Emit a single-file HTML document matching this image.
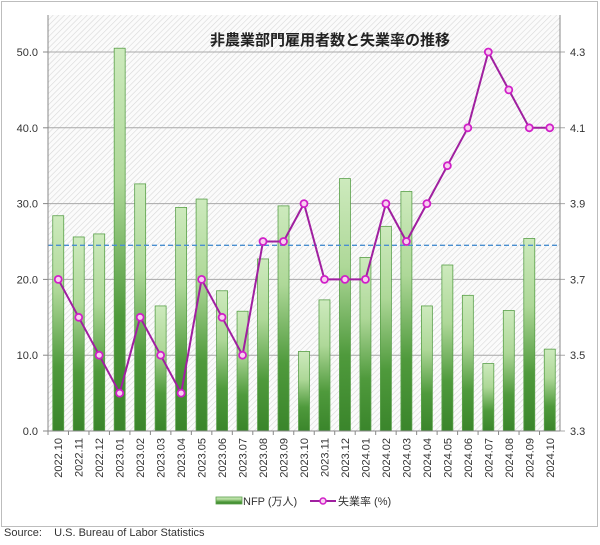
<!DOCTYPE html>
<html><head><meta charset="utf-8"><style>
body{margin:0;background:#fff;}
svg text{font-family:"Liberation Sans","Noto Sans CJK JP",sans-serif;}
</style></head><body>
<svg id="chart" width="600" height="540" xmlns="http://www.w3.org/2000/svg">
<defs>
<pattern id="hatch" width="4" height="4" patternUnits="userSpaceOnUse" patternTransform="rotate(45)">
<rect width="4" height="4" fill="#fbfbfb"/><line x1="0" y1="0" x2="0" y2="4" stroke="#d8d8d8" stroke-width="1.2"/>
</pattern>
<linearGradient id="barg" x1="0" y1="0" x2="0" y2="1">
<stop offset="0" stop-color="#cdeabd"/><stop offset="0.35" stop-color="#aed898"/><stop offset="0.7" stop-color="#4f9a3c"/><stop offset="1" stop-color="#3a852b"/>
</linearGradient>
</defs>
<rect x="1.5" y="1.5" width="596" height="525" fill="#fff" stroke="#bdbdbd"/>
<rect x="48" y="15" width="512" height="416" fill="url(#hatch)"/>
<g id="grid"></g>
<g id="bars"></g>
<line x1="48" x2="560" y1="245" y2="245" stroke="#4a8fd0" stroke-width="1.3" stroke-dasharray="5,3" id="avg"/>
<g id="line"></g>
<g id="axes"></g>
<text x="330" y="45" text-anchor="middle" font-size="15" font-weight="bold" fill="#222">非農業部門雇用者数と失業率の推移</text>
<g>
<rect x="216" y="276" width="0" height="0"/>
<rect x="216" y="497" width="26" height="7" fill="url(#barg)" stroke="#5aa04a" stroke-width="0.8"/>
<text x="243" y="505" font-size="11" fill="#333">NFP (万人)</text>
<line x1="310" x2="336" y1="501" y2="501" stroke="#a020a0" stroke-width="2"/>
<circle cx="323" cy="501" r="3" fill="#f8d0f0" stroke="#d020c8" stroke-width="1.5"/>
<text x="338" y="505" font-size="11" fill="#333">失業率 (%)</text>
</g>
<text x="4" y="536" font-size="11" fill="#333">Source:&#160;&#160;&#160;&#160;U.S. Bureau of Labor Statistics</text>
</svg>
<script>
const categories=["2022.10","2022.11","2022.12","2023.01","2023.02","2023.03","2023.04","2023.05","2023.06","2023.07","2023.08","2023.09","2023.10","2023.11","2023.12","2024.01","2024.02","2024.03","2024.04","2024.05","2024.06","2024.07","2024.08","2024.09","2024.10"];
const nfp=[28.4,25.6,26.0,50.5,32.6,16.5,29.5,30.6,18.5,15.8,22.7,29.7,10.5,17.3,33.3,22.9,27.0,31.6,16.5,21.9,17.9,8.9,15.9,25.4,10.8];
const unemp=[3.7,3.6,3.5,3.4,3.6,3.5,3.4,3.7,3.6,3.5,3.8,3.8,3.9,3.7,3.7,3.7,3.9,3.8,3.9,4.0,4.1,4.3,4.2,4.1,4.1];
const leftTicks=[0,10,20,30,40,50];
const rightTicks=[3.3,3.5,3.7,3.9,4.1,4.3];
const avgValue=24.5;
const NS="http://www.w3.org/2000/svg";
const X0=48,X1=560,Y0=431,Y50=52;
const yL=v=>Y0-(v/50)*(Y0-Y50);
const yR=v=>Y0-((v-3.3)/1.0)*(Y0-Y50);
const bw=(X1-X0)/categories.length;
const xC=i=>X0+bw*(i+0.5);
function mk(t,a,p){const e=document.createElementNS(NS,t);for(const k in a)e.setAttribute(k,a[k]);p.appendChild(e);return e;}
const grid=document.getElementById('grid'),bars=document.getElementById('bars'),line=document.getElementById('line'),axes=document.getElementById('axes');
document.getElementById('avg').setAttribute('y1',yL(avgValue));
document.getElementById('avg').setAttribute('y2',yL(avgValue));
leftTicks.forEach(v=>{const y=yL(v);
 const g=mk('line',{x1:X0,x2:X1+5,y1:y,y2:y,stroke:'#a8a8a8','stroke-width':1},grid);
 
 
 mk('line',{x1:X0-5,x2:X0,y1:y,y2:y,stroke:'#888'},axes);
 const t=mk('text',{x:38,y:y+4,'text-anchor':'end','font-size':11,fill:'#333'},axes);t.textContent=v.toFixed(1);
 
 
});
rightTicks.forEach(v=>{const y=yR(v);
 const t=mk('text',{x:570,y:y+4,'font-size':11,fill:'#333'},axes);t.textContent=v.toFixed(1);
 
 
});
mk('line',{x1:X0,x2:X0,y1:15,y2:Y0,stroke:'#888'},axes);
mk('line',{x1:X1,x2:X1,y1:15,y2:Y0,stroke:'#888'},axes);
mk('line',{x1:X0,x2:X1,y1:Y0,y2:Y0,stroke:'#888'},axes);
categories.forEach((c,i)=>{
 const x=xC(i),y=yL(nfp[i]);
 const r=mk('rect',{x:x-5.5,y:y,width:11,height:Y0-y,fill:'url(#barg)',stroke:'#5aa04a','stroke-width':0.8},bars);
 
 
 mk('line',{x1:X0+bw*i,x2:X0+bw*i,y1:Y0,y2:Y0+4,stroke:'#888'},axes);
 const t=mk('text',{transform:`translate(${x+4},${Y0+7}) rotate(-90)`,'text-anchor':'end','font-size':11,fill:'#333'},axes);t.textContent=c;
 
 
});
const pts=unemp.map((v,i)=>xC(i)+','+yR(v)).join(' ');
const pl=mk('polyline',{points:pts,fill:'none',stroke:'#a020a0','stroke-width':2},line);


unemp.forEach((v,i)=>{
 const c=mk('circle',{cx:xC(i),cy:yR(v),r:3.5,fill:'#f8d0f0',stroke:'#d020c8','stroke-width':1.8},line);
 
 
});
</script>
</body></html>
